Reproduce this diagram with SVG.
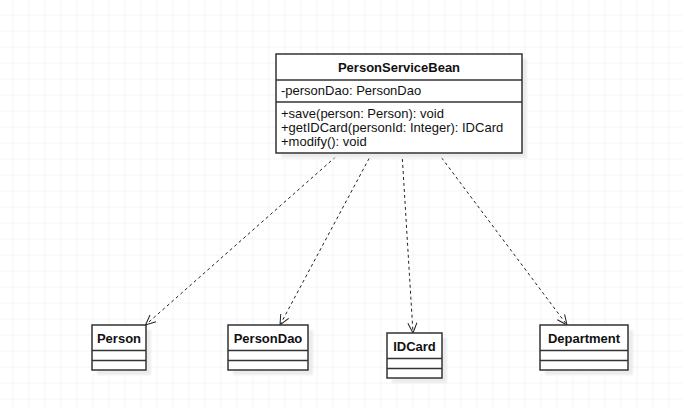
<svg xmlns="http://www.w3.org/2000/svg" width="682" height="409" viewBox="0 0 682 409">
  <defs>
    <pattern id="grid" x="0" y="0" width="16" height="16" patternUnits="userSpaceOnUse" patternTransform="translate(12.5 14.5)">
      <path d="M0,0 H16 M0,0 V16" fill="none" stroke="#ebebeb" stroke-width="1"/>
    </pattern>
    <marker id="open" markerUnits="userSpaceOnUse" markerWidth="12" markerHeight="10" refX="10" refY="4.5" orient="auto" overflow="visible">
      <path d="M0,0 L10,4.5 L0,9" fill="none" stroke="#222" stroke-width="1"/>
    </marker>
    <filter id="soft" x="-20%" y="-20%" width="140%" height="140%">
      <feGaussianBlur stdDeviation="0.8"/>
    </filter>
  </defs>
  <style>
    .box { fill: #ffffff; stroke: #333333; stroke-width: 1.5; }
    .sep { stroke: #333333; stroke-width: 1.5; }
    .shadow { fill: #ececec; filter: url(#soft); }
    .title { font-family: "Liberation Sans", Arial, sans-serif; font-size: 13px; font-weight: bold; fill: #111; text-anchor: middle; }
    .member { font-family: "Liberation Sans", Arial, sans-serif; font-size: 13px; fill: #111; }
    .dep { fill: none; stroke: #222; stroke-width: 1; stroke-dasharray: 3 3; marker-end: url(#open); }
  </style>

  <rect width="682" height="409" fill="#ffffff"/>
  <rect width="682" height="409" fill="url(#grid)"/>

  <!-- dependency connectors -->
  <g id="connectors">
    <path class="dep" d="M340,153 L145.5,325"/>
    <path class="dep" d="M372,153 L280,325"/>
    <path class="dep" d="M402,153 L413,333"/>
    <path class="dep" d="M438,153 L567,325"/>
  </g>

  <!-- PersonServiceBean class -->
  <g id="PersonServiceBean">
    <rect class="shadow" x="281" y="59" width="246" height="99"/>
    <rect class="box" x="276" y="54" width="246" height="99"/>
    <line class="sep" x1="276" y1="80" x2="522" y2="80"/>
    <line class="sep" x1="276" y1="102" x2="522" y2="102"/>
    <text class="title" x="399" y="72">PersonServiceBean</text>
    <text class="member" x="281" y="95">-personDao: PersonDao</text>
    <text class="member" x="281" y="117.5">+save(person: Person): void</text>
    <text class="member" x="281" y="131.5">+getIDCard(personId: Integer): IDCard</text>
    <text class="member" x="281" y="145.5">+modify(): void</text>
  </g>

  <!-- Person class -->
  <g id="Person">
    <rect class="shadow" x="97" y="330" width="54" height="45"/>
    <rect class="box" x="92" y="325" width="54" height="45"/>
    <line class="sep" x1="92" y1="350.5" x2="146" y2="350.5"/>
    <line class="sep" x1="92" y1="360.5" x2="146" y2="360.5"/>
    <text class="title" x="119" y="343">Person</text>
  </g>

  <!-- PersonDao class -->
  <g id="PersonDao">
    <rect class="shadow" x="233" y="330" width="80" height="45"/>
    <rect class="box" x="228" y="325" width="80" height="45"/>
    <line class="sep" x1="228" y1="350.5" x2="308" y2="350.5"/>
    <line class="sep" x1="228" y1="360.5" x2="308" y2="360.5"/>
    <text class="title" x="268" y="343">PersonDao</text>
  </g>

  <!-- IDCard class -->
  <g id="IDCard">
    <rect class="shadow" x="392" y="338" width="55" height="45"/>
    <rect class="box" x="387" y="333" width="55" height="45"/>
    <line class="sep" x1="387" y1="358.5" x2="442" y2="358.5"/>
    <line class="sep" x1="387" y1="368.5" x2="442" y2="368.5"/>
    <text class="title" x="414.5" y="351">IDCard</text>
  </g>

  <!-- Department class -->
  <g id="Department">
    <rect class="shadow" x="545" y="330" width="88" height="45"/>
    <rect class="box" x="540" y="325" width="88" height="45"/>
    <line class="sep" x1="540" y1="350.5" x2="628" y2="350.5"/>
    <line class="sep" x1="540" y1="360.5" x2="628" y2="360.5"/>
    <text class="title" x="584" y="343">Department</text>
  </g>
</svg>
